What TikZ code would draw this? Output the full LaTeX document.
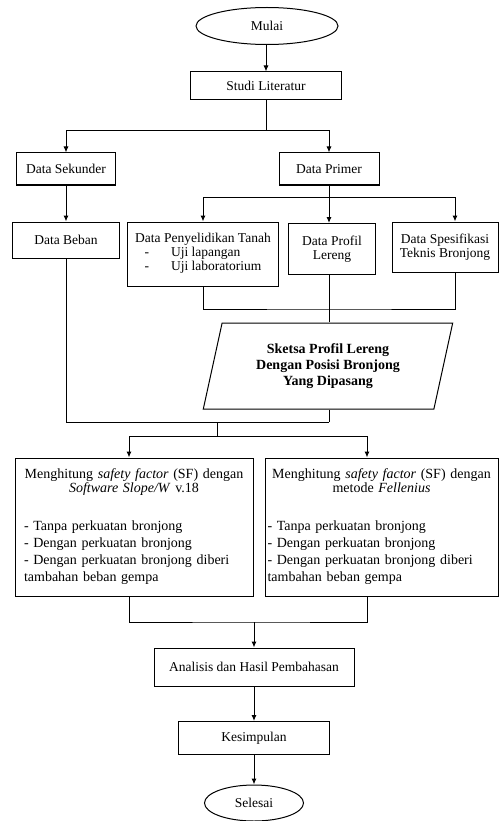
\documentclass[tikz,border=0pt]{standalone}
\usepackage{fontspec}
\setmainfont{Liberation Serif}
\usetikzlibrary{shapes.geometric,arrows.meta}

\begin{document}
\begin{tikzpicture}[x=1pt, y=-1pt,
    box/.style={draw, line width=1pt, font=\fontsize{13.5}{14.5}\selectfont,
                align=center, inner sep=2pt},
    term/.style={box, ellipse},
    bigbox/.style={draw, line width=1pt, minimum height=138, text width=228,
                   inner sep=0pt, font=\fontsize{14}{17}\selectfont},
    sketch/.style={box, trapezium, trapezium left angle=75, trapezium right angle=105,
                   trapezium stretches=true, font=\fontsize{14}{16}\selectfont\bfseries},
    arr/.style={->, line width=1pt},
    >={Latex[length=6pt,width=5pt]}
  ]
    \useasboundingbox (0,0) rectangle (499,821);

    \node[term, minimum width=142, minimum height=37] (mulai) at (267,26) {Mulai};
    \node[box, minimum width=151, minimum height=28] (studi) at (266,86) {Studi Literatur};
    \node[box, minimum width=99, minimum height=32] (sekunder) at (66,169) {Data Sekunder};
    \node[box, minimum width=100, minimum height=32] (primer) at (329,169) {Data Primer};
    \node[box, minimum width=107, minimum height=36] (beban) at (66,240) {Data Beban};
    \node[box, minimum width=151, minimum height=64] (tanah) at (203,254)
      {Data Penyelidikan Tanah\\
       \begin{tabular}{@{}l@{\hspace{22pt}}l@{}}- & Uji lapangan\\ - & Uji laboratorium\end{tabular}};
    \node[box, minimum width=87, minimum height=51] (profil) at (332,249) {Data Profil\\Lereng};
    \node[box, minimum width=106, minimum height=50] (spek) at (445,247) {Data Spesifikasi\\Teknis Bronjong};
    \node[sketch, minimum width=250, minimum height=86] (sketsa) at (328,366)
      {Sketsa Profil Lereng\\Dengan Posisi Bronjong\\Yang Dipasang};
    \node[bigbox, minimum width=238] (hitung1) at (134,527)
      {{\centering Menghitung \textit{safety factor} (SF) dengan\\[-3pt]
        \textit{Software Slope/W} v.18\par}\vspace{21pt}
       \hspace*{4pt}- Tanpa perkuatan bronjong\\
       \hspace*{4pt}- Dengan perkuatan bronjong\\
       \hspace*{4pt}- Dengan perkuatan bronjong diberi\\
       \hspace*{4pt}tambahan beban gempa\par\vspace{26pt}};
    \node[bigbox, minimum width=233] (hitung2) at (381.5,527)
      {{\centering Menghitung \textit{safety factor} (SF) dengan\\[-3pt]
        metode \textit{Fellenius}\par}\vspace{21pt}
       - Tanpa perkuatan bronjong\\
       - Dengan perkuatan bronjong\\
       - Dengan perkuatan bronjong diberi\\
       tambahan beban gempa\par\vspace{26pt}};
    \node[box, minimum width=200, minimum height=38] (analisis) at (254,667) {Analisis dan Hasil Pembahasan};
    \node[box, minimum width=151, minimum height=33] (kesimpulan) at (254,738) {Kesimpulan};
    \node[term, minimum width=99, minimum height=36] (selesai) at (254,803) {Selesai};

    % junctions
    \coordinate (j1) at (266,131);
    \coordinate (j2) at (329,197);
    \coordinate (j3) at (329,309);
    \coordinate (j4) at (329,422);
    \coordinate (j5) at (217,422);
    \coordinate (j6) at (217,436);
    \coordinate (j7) at (254,622);

    \draw[arr] (mulai.south -| studi.north) -- (studi.north);
    \draw (studi) -- (j1);
    \draw[arr] (j1) -| (sekunder);
    \draw[arr] (j1) -| (primer);
    \draw[arr] (sekunder) -- (beban);
    \draw (primer) -- (j2);
    \draw[arr] (j2) -| (tanah);
    \draw[arr] (j2) -- (j2 |- profil.north);
    \draw[arr] (j2) -| ([xshift=10]spek.north);
    \draw (tanah.south) |- (j3) -| ([xshift=10]spek.south);
    \draw (j2 |- profil.south) -- (j2 |- sketsa.north);
    \draw (beban.south) |- (j4);
    \draw (j4 |- sketsa.south) -- (j4);
    \draw (j5) -- (j6);
    \draw[arr] (j6) -| ([xshift=-5]hitung1.north);
    \draw[arr] (j6) -| ([xshift=-14.5]hitung2.north);
    \draw ([xshift=-5]hitung1.south) |- (j7) -| ([xshift=-14.5]hitung2.south);
    \draw[arr] (j7) -- (analisis);
    \draw[arr] (analisis) -- (kesimpulan);
    \draw[arr] (kesimpulan) -- (selesai);
  \end{tikzpicture}
\end{document}
